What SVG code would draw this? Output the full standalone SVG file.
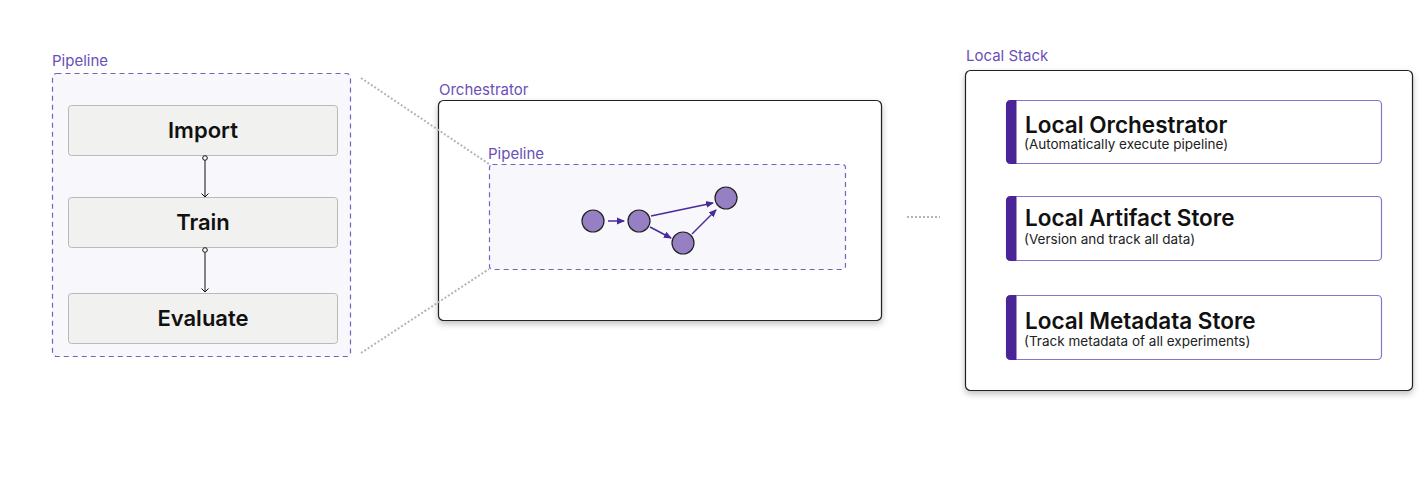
<svg xmlns="http://www.w3.org/2000/svg" width="1428" height="493" viewBox="0 0 1428 493">
<style>
.lbl{font-family:Inter,"Liberation Sans",sans-serif;font-size:15px;fill:#6a4fb8}
.step{fill:#f1f1f0;stroke:#b9b9b9;stroke-width:1}
.stept{font-family:Inter,"Liberation Sans",sans-serif;font-size:22px;font-weight:600;fill:#111;text-anchor:middle}
.dash{fill:#f8f7fc;stroke:#7a5fc2;stroke-width:1.2;stroke-dasharray:5 4}
.box{fill:#fff;stroke:#222;stroke-width:1.2}
.dot{fill:none;stroke:#b5b5b5;stroke-width:2;stroke-dasharray:2 2}
.cn{fill:#967fc2;stroke:#222;stroke-width:1.2}
.pa{stroke:#4a2a9a;stroke-width:1.5;fill:none}
.card{fill:#fff;stroke:#8a73cc;stroke-width:1.2}
.ct{font-family:Inter,"Liberation Sans",sans-serif;font-size:22.5px;font-weight:600;fill:#111}
.cs{font-family:Inter,"Liberation Sans",sans-serif;font-size:13.5px;fill:#222}
</style>
<defs>
<filter id="sh" x="-5%" y="-5%" width="110%" height="115%"><feDropShadow dx="0" dy="3" stdDeviation="3" flood-color="#000" flood-opacity="0.25"/></filter>
<marker id="oa" markerWidth="10" markerHeight="10" refX="9" refY="5" orient="auto" markerUnits="userSpaceOnUse" viewBox="0 0 10 10"><path d="M5.5,1.5 L9,5 L5.5,8.5" fill="none" stroke="#111" stroke-width="1"/></marker>
<marker id="pa" markerWidth="8" markerHeight="8" refX="7" refY="4" orient="auto" markerUnits="userSpaceOnUse" viewBox="0 0 8 8"><path d="M0,0.5 L8,4 L0,7.5 z" fill="#4a2a9a"/></marker>
</defs>

<g id="pipeline-left">
<text class="lbl" x="52" y="66">Pipeline</text>
<rect class="dash" x="52.5" y="73.5" width="298" height="283" rx="4"/>
</g>
<g id="import"><rect class="step" x="68.5" y="105.5" width="269" height="50" rx="3"/><text class="stept" x="203" y="138">Import</text></g>
<g id="train"><rect class="step" x="68.5" y="197.5" width="269" height="50" rx="3"/><text class="stept" x="203" y="230">Train</text></g>
<g id="evaluate"><rect class="step" x="68.5" y="293.5" width="269" height="50" rx="3"/><text class="stept" x="203" y="326">Evaluate</text></g>

<g id="orchestrator">
<text class="lbl" x="439" y="95">Orchestrator</text>
<rect class="box" x="438.5" y="100.5" width="443" height="220" rx="5" filter="url(#sh)"/>
<text class="lbl" x="488" y="159">Pipeline</text>
<rect class="dash" x="489.5" y="164.5" width="356" height="105" rx="3"/>
</g>
<g id="n1"><circle class="cn" cx="593" cy="221" r="11"/></g>
<g id="n2"><circle class="cn" cx="639" cy="221" r="11"/></g>
<g id="n3"><circle class="cn" cx="683" cy="243" r="11"/></g>
<g id="n4"><circle class="cn" cx="726" cy="198" r="11"/></g>

<g id="local-stack">
<text class="lbl" x="966" y="61">Local Stack</text>
<rect class="box" x="965.5" y="70.5" width="447" height="320" rx="5" filter="url(#sh)"/>
</g>
<g id="card-orch">
<rect class="card" x="1006.5" y="100.5" width="375" height="63" rx="4"/>
<path d="M1016,100.5 H1010.5 a4,4 0 0 0 -4,4 V159.5 a4,4 0 0 0 4,4 H1016 z" fill="#4a2597" stroke="#4a2597"/>
<text class="ct" x="1025" y="133">Local Orchestrator</text>
<text class="cs" x="1024" y="149">(Automatically execute pipeline)</text>
</g>
<g id="card-artifact">
<rect class="card" x="1006.5" y="196.5" width="375" height="64" rx="4"/>
<path d="M1016,196.5 H1010.5 a4,4 0 0 0 -4,4 V256.5 a4,4 0 0 0 4,4 H1016 z" fill="#4a2597" stroke="#4a2597"/>
<text class="ct" x="1025" y="226">Local Artifact Store</text>
<text class="cs" x="1024" y="244">(Version and track all data)</text>
</g>
<g id="card-metadata">
<rect class="card" x="1006.5" y="295.5" width="375" height="64" rx="4"/>
<path d="M1016,295.5 H1010.5 a4,4 0 0 0 -4,4 V355.5 a4,4 0 0 0 4,4 H1016 z" fill="#4a2597" stroke="#4a2597"/>
<text class="ct" x="1025" y="329">Local Metadata Store</text>
<text class="cs" x="1024" y="346">(Track metadata of all experiments)</text>
</g>

<g id="connectors">
<circle cx="205" cy="158" r="2.3" fill="#fff" stroke="#111" stroke-width="1"/>
<line x1="205" y1="160.5" x2="205" y2="197" stroke="#111" stroke-width="1" marker-end="url(#oa)"/>
<circle cx="205" cy="250" r="2.3" fill="#fff" stroke="#111" stroke-width="1"/>
<line x1="205" y1="252.5" x2="205" y2="292" stroke="#111" stroke-width="1" marker-end="url(#oa)"/>
<line class="dot" x1="361" y1="78" x2="489" y2="164"/>
<line class="dot" x1="361" y1="353" x2="489" y2="269"/>
<line class="dot" x1="907" y1="217" x2="940" y2="217"/>
<line class="pa" x1="608" y1="221" x2="624" y2="221" marker-end="url(#pa)"/>
<line class="pa" x1="651" y1="216" x2="713" y2="203" marker-end="url(#pa)"/>
<line class="pa" x1="650" y1="227" x2="671" y2="238" marker-end="url(#pa)"/>
<line class="pa" x1="692" y1="234" x2="716" y2="210" marker-end="url(#pa)"/>
</g>
</svg>
